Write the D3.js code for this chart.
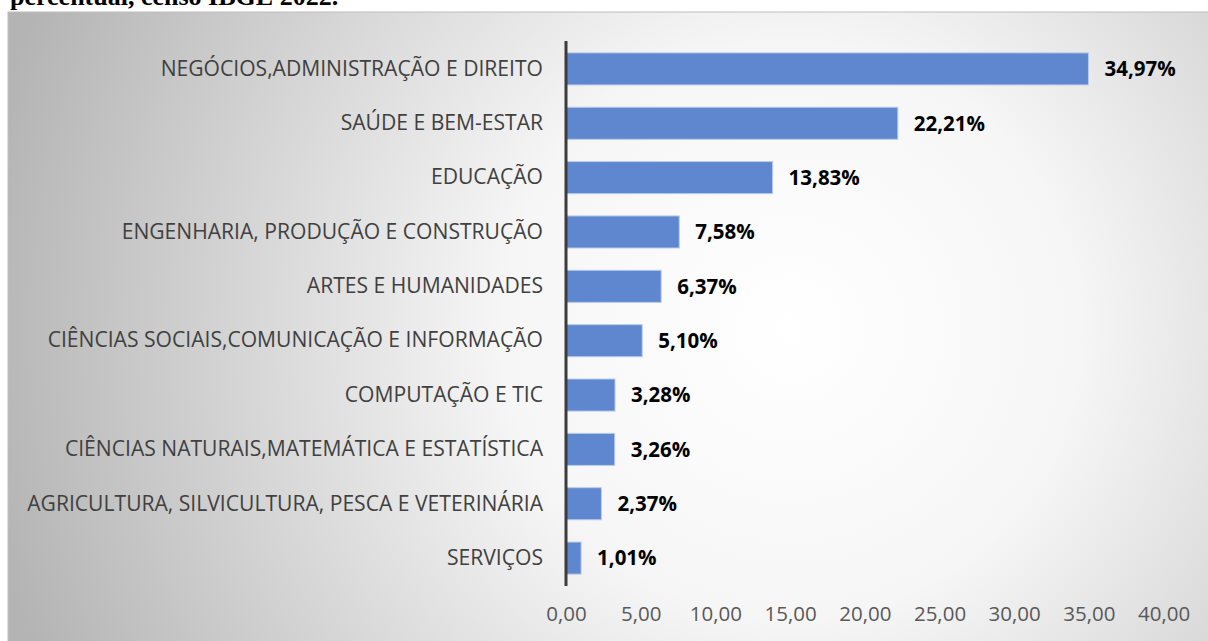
<!DOCTYPE html>
<html>
<head>
<meta charset="utf-8">
<script src="https://cdn.jsdelivr.net/npm/d3@7"></script>
<style>
  html, body { margin: 0; padding: 0; background: #ffffff; }
  svg { display: block; }
</style>
</head>
<body>
<svg id="chart" width="1208" height="641"></svg>
<script>
const categories = [
  "NEGÓCIOS,ADMINISTRAÇÃO E DIREITO",
  "SAÚDE E BEM-ESTAR",
  "EDUCAÇÃO",
  "ENGENHARIA, PRODUÇÃO E CONSTRUÇÃO",
  "ARTES E HUMANIDADES",
  "CIÊNCIAS SOCIAIS,COMUNICAÇÃO E INFORMAÇÃO",
  "COMPUTAÇÃO E TIC",
  "CIÊNCIAS NATURAIS,MATEMÁTICA E ESTATÍSTICA",
  "AGRICULTURA, SILVICULTURA, PESCA E VETERINÁRIA",
  "SERVIÇOS"
];
const values = [34.97, 22.21, 13.83, 7.58, 6.37, 5.10, 3.28, 3.26, 2.37, 1.01];
const valueLabels = ["34,97%", "22,21%", "13,83%", "7,58%", "6,37%", "5,10%", "3,28%", "3,26%", "2,37%", "1,01%"];
const tickValues = [0, 5, 10, 15, 20, 25, 30, 35, 40];
const tickLabels = ["0,00", "5,00", "10,00", "15,00", "20,00", "25,00", "30,00", "35,00", "40,00"];
const titleText = "percentual, censo IBGE 2022.";

const svg = d3.select("#chart");
const W = 1208, H = 641;

const defs = svg.append("defs");
const rg = defs.append("radialGradient")
  .attr("id", "bg").attr("gradientUnits", "userSpaceOnUse")
  .attr("cx", 790).attr("cy", 330).attr("r", 820);
rg.append("stop").attr("offset", "0%").attr("stop-color", "#ffffff");
rg.append("stop").attr("offset", "35%").attr("stop-color", "#f6f6f6");
rg.append("stop").attr("offset", "100%").attr("stop-color", "#b4b4b4");

// title (cut off at top)
svg.append("text")
  .attr("x", 10).attr("y", 5)
  .attr("font-family", "'Liberation Serif', 'Times New Roman', serif")
  .attr("font-weight", "bold")
  .attr("font-size", 26)
  .attr("fill", "#000")
  .text(titleText);

svg.append("rect")
  .attr("x", 8).attr("y", 12).attr("width", W - 8 + 2).attr("height", H - 12 + 2)
  .attr("fill", "url(#bg)")
  .attr("stroke", "#bdbdbd").attr("stroke-width", 1);

const x0 = 566;
const x = d3.scaleLinear().domain([0, 40]).range([x0, x0 + 40 * 14.94]);
const y = d3.scaleBand().domain(categories).range([42, 585]).paddingInner(0.41).paddingOuter(0.2);

const fontFam = "'Open Sans', 'Noto Sans', sans-serif";

svg.append("g").selectAll("rect").data(values).join("rect")
  .attr("x", x(0))
  .attr("y", (d, i) => y(categories[i]))
  .attr("width", d => x(d) - x(0))
  .attr("height", y.bandwidth())
  .attr("fill", "#5f87cf")
  .attr("stroke", "#b9cbeb").attr("stroke-width", 1);

svg.append("g").selectAll("text").data(values).join("text")
  .attr("x", d => x(d) + 16)
  .attr("y", (d, i) => y(categories[i]) + y.bandwidth() / 2)
  .attr("dy", "0.36em")
  .attr("font-family", fontFam)
  .attr("font-weight", "bold")
  .attr("font-size", 20.5)
  .attr("fill", "#000")
  .text((d, i) => valueLabels[i]);

const yAxis = d3.axisLeft(y).tickSize(0).tickPadding(23);
const gy = svg.append("g").attr("transform", `translate(${x0},0)`).call(yAxis);
gy.select(".domain").remove();
gy.selectAll("text")
  .attr("font-family", fontFam)
  .attr("font-size", 21.1)
  .attr("fill", "#404040");

svg.append("line")
  .attr("x1", x0).attr("x2", x0)
  .attr("y1", 41).attr("y2", 586)
  .attr("stroke", "#3c3c3c").attr("stroke-width", 3);

const xAxis = d3.axisBottom(x).tickValues(tickValues).tickSize(0).tickPadding(0)
  .tickFormat((d, i) => tickLabels[i]);
const gx = svg.append("g").attr("transform", `translate(0,606)`).call(xAxis);
gx.select(".domain").remove();
gx.selectAll("text")
  .attr("font-family", fontFam)
  .attr("font-size", 20.5)
  .attr("fill", "#595959");
</script>
</body>
</html>
